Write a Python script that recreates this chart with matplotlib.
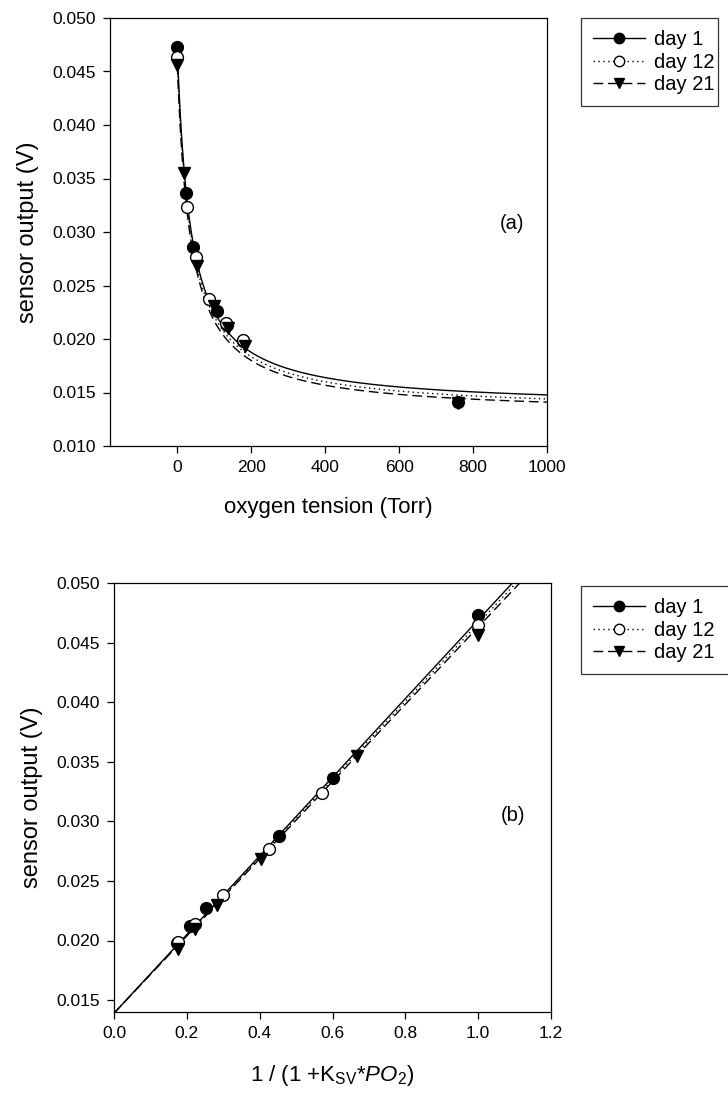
import numpy as np
import matplotlib
matplotlib.use("Agg")
import matplotlib.pyplot as plt
from matplotlib.lines import Line2D
from matplotlib.ticker import FormatStrFormatter, MultipleLocator

plt.rcParams["font.family"] = ["Liberation Sans", "DejaVu Sans"]
plt.rcParams["mathtext.fontset"] = "custom"
plt.rcParams["mathtext.rm"] = "Liberation Sans"
plt.rcParams["mathtext.it"] = "Liberation Sans:italic"

# ---- dados ----------------------------------------------------------------
DIAS = ["day 1", "day 12", "day 21"]

# (a) tensão de O2 (Torr) x saída do sensor (V)
P_DIA1 = [0, 24, 43, 108, 135, 178, 760]
V_DIA1 = [0.0473, 0.0336, 0.0286, 0.0226, 0.0213, 0.0198, 0.0141]
P_DIA12 = [0, 27, 51, 86, 133, 178]
V_DIA12 = [0.0464, 0.0323, 0.0277, 0.0237, 0.0215, 0.0199]
P_DIA21 = [0, 19, 54, 100, 138, 184, 760]
V_DIA21 = [0.0456, 0.0355, 0.0268, 0.0231, 0.0210, 0.0193, 0.0140]

# (b) 1/(1+Ksv*PO2) x saída do sensor (V)
X_DIA1 = [1.0, 0.60, 0.452, 0.252, 0.209, 0.174]
W_DIA1 = [0.0473, 0.0336, 0.0288, 0.0227, 0.0212, 0.0198]
X_DIA12 = [1.0, 0.57, 0.425, 0.300, 0.222, 0.175]
W_DIA12 = [0.0465, 0.0324, 0.0277, 0.0238, 0.0214, 0.0199]
X_DIA21 = [1.0, 0.667, 0.405, 0.283, 0.222, 0.176]
W_DIA21 = [0.0456, 0.0355, 0.0268, 0.0230, 0.0210, 0.0193]

# curvas ajustadas (V = a + b/(1+K*P)) e retas (V = a + b*x)
A_CURVA = [0.01360, 0.01323, 0.01295]
B_CURVA = [0.0334, 0.03317, 0.03265]
K_SV = [0.0274, 0.0274, 0.0274]
A_RETA = [0.0139, 0.0139, 0.0139]
B_RETA = [0.0330, 0.0327, 0.0324]

ESTILOS = [
    dict(marker="o", mfc="black", ls="-"),
    dict(marker="o", mfc="white", ls=(0, (1, 2.5))),
    dict(marker="v", mfc="black", ls=(0, (7, 3.5))),
]
MS = 8.5
LW = 1.0


def formatar_eixo(ax):
    for s in ax.spines.values():
        s.set_linewidth(0.9)
    ax.tick_params(direction="out", length=5, width=0.9, labelsize=12.5,
                   pad=5, top=False, right=False)
    ax.yaxis.set_major_formatter(FormatStrFormatter("%.3f"))
    ax.yaxis.set_major_locator(MultipleLocator(0.005))
    ax.set_ylabel("sensor output (V)", fontsize=17, labelpad=10)


def legenda(fig, y_topo, largura):
    handles = [Line2D([], [], color="black", lw=LW, mec="black", ms=MS - 1,
                      **est) for est in ESTILOS]
    leg = fig.legend(handles, DIAS, loc="upper left",
                     bbox_to_anchor=(581 / 728, y_topo - 0.1, largura, 0.1),
                     mode="expand", fontsize=14.5,
                     frameon=True, fancybox=False, edgecolor="black",
                     handlelength=2.6, labelspacing=0.18, borderpad=0.6,
                     handletextpad=0.4, borderaxespad=0)
    leg.get_frame().set_linewidth(0.9)


fig = plt.figure(figsize=(7.28, 10.94), dpi=100)
ax_a = fig.add_axes([110 / 728, 1 - 446 / 1094, 437 / 728, 428 / 1094])
ax_b = fig.add_axes([114 / 728, 1 - 1012 / 1094, 437 / 728, 429 / 1094])

# ---- (a) -----------------------------------------------------------------
p = np.linspace(0, 1000, 400)
for a, b, k, est in zip(A_CURVA, B_CURVA, K_SV, ESTILOS):
    ax_a.plot(p, a + b / (1 + k * p), color="black", lw=LW, ls=est["ls"])
for px, vy, est in zip([P_DIA1, P_DIA12, P_DIA21],
                       [V_DIA1, V_DIA12, V_DIA21], ESTILOS):
    ax_a.plot(px, vy, ls="none", marker=est["marker"], mfc=est["mfc"],
              mec="black", ms=MS, mew=1.0)
ax_a.set_xlim(-182, 1000)
ax_a.set_ylim(0.010, 0.050)
ax_a.set_xticks(np.arange(0, 1001, 200))
formatar_eixo(ax_a)
ax_a.set_xlabel("oxygen tension (Torr)", fontsize=16, labelpad=16)
ax_a.text(0.92, 0.521, "(a)", transform=ax_a.transAxes, fontsize=14.5,
          ha="center", va="center")

# ---- (b) -----------------------------------------------------------------
x = np.linspace(0, 1.2, 50)
for a, b, est in zip(A_RETA, B_RETA, ESTILOS):
    ax_b.plot(x, a + b * x, color="black", lw=LW, ls=est["ls"])
for xx, vy, est in zip([X_DIA1, X_DIA12, X_DIA21],
                       [W_DIA1, W_DIA12, W_DIA21], ESTILOS):
    ax_b.plot(xx, vy, ls="none", marker=est["marker"], mfc=est["mfc"],
              mec="black", ms=MS, mew=1.0)
ax_b.set_xlim(0, 1.2)
ax_b.set_ylim(0.014, 0.050)
ax_b.set_xticks(np.arange(0, 1.21, 0.2))
ax_b.xaxis.set_major_formatter(FormatStrFormatter("%.1f"))
formatar_eixo(ax_b)
ax_b.set_yticks(np.arange(0.015, 0.0501, 0.005))
ax_b.set_xlabel(r"1 / (1 +K$_{\mathrm{SV}}$*$\mathit{PO}_2$)", fontsize=16,
                labelpad=16)
ax_b.text(0.913, 0.459, "(b)", transform=ax_b.transAxes, fontsize=14.5,
          ha="center", va="center")

legenda(fig, 1 - 18 / 1094, 137 / 728)
legenda(fig, 1 - 586 / 1094, 160 / 728)

fig.savefig("out.png", dpi=100)
